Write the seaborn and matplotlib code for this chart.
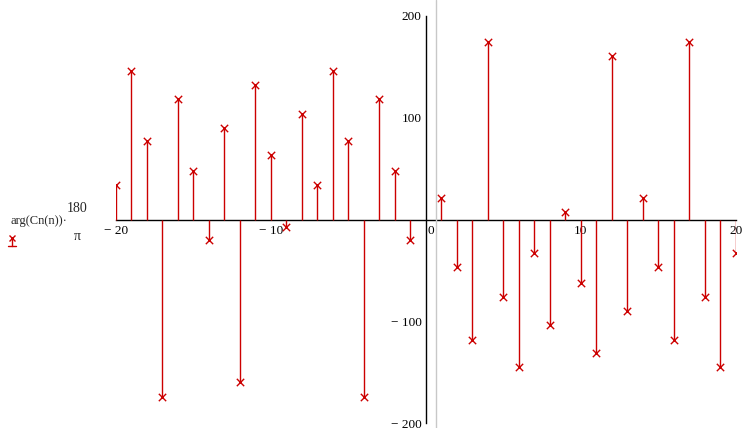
import matplotlib
matplotlib.use("Agg")
import matplotlib.pyplot as plt
from matplotlib.lines import Line2D
import matplotlib.transforms as mtransforms
import numpy as np
import pandas as pd
import seaborn as sns

# ---- data ----
n_neg = list(range(-20, 0))
phase_neg = [34, 146, 77, -174, 118, 48, -20, 90, -159, 132, 63, -7, 104,
             34, 146, 77, -174, 118, 48, -20]
n_pos = list(range(1, 21))
phase_pos = [21, -47, -118, 174, -76, -145, -33, -104, 7, -62, -131, 160, -90,
             21, -47, -118, 174, -76, -145, -33]

x_ticks = [-20, -10, 0, 10, 20]
x_tick_labels = ["\u2212 20", "\u2212 10", "0", "10", "20"]
y_ticks = [200, 100, -100, -200]
y_tick_labels = ["200", "100", "\u2212 100", "\u2212 200"]
trace_label_main = "arg(Cn(n))\u00b7"
trace_label_num = "180"
trace_label_den = "\u03c0"

df = pd.DataFrame({"n": n_neg + n_pos, "phase": phase_neg + phase_pos})

sns.set_style("white")
plt.rcParams["font.family"] = ["Liberation Serif", "DejaVu Serif"]

RED = "#cc0000"
W, H = 755, 428
fig = plt.figure(figsize=(W / 100, H / 100), dpi=100)
ax = fig.add_axes([115.7 / W, 4.7 / H, (736 - 115.7) / W, (423.3 - 15.7) / H])
ax.set_facecolor("none")

ax.vlines(df["n"], 0, df["phase"], colors=RED, linewidth=1.0, zorder=2)
sns.scatterplot(data=df, x="n", y="phase", marker="x", color=RED, s=28,
                linewidth=1.0, ax=ax, legend=False, zorder=3, clip_on=True)

ax.set_xlim(-20, 20)
ax.set_ylim(-200, 200)
ax.set_xlabel("")
ax.set_ylabel("")

for s in ["top", "right"]:
    ax.spines[s].set_visible(False)
for s in ["left", "bottom"]:
    ax.spines[s].set_position(("data", 0))
    ax.spines[s].set_color("black")
    ax.spines[s].set_linewidth(1.0)
    ax.spines[s].set_zorder(1)

ax.set_xticks(x_ticks)
ax.set_xticklabels(x_tick_labels)
ax.set_yticks(y_ticks)
ax.set_yticklabels(y_tick_labels)
ax.tick_params(axis="both", direction="inout", length=6, width=1.0,
               colors="black", labelsize=9.5, pad=1)
ax.tick_params(axis="y", pad=0)

# shift the "0" x label right of the y axis
for lab in ax.get_xticklabels():
    if lab.get_text() == "0":
        lab.set_transform(lab.get_transform() +
                          mtransforms.ScaledTranslation(5 / 100, 0, fig.dpi_scale_trans))

# light gray vertical region border
fig.add_artist(Line2D([436 / W, 436 / W], [0, 1], color="#c8c8c8", linewidth=1.0))

# trace label on the left (stacked fraction without bar, as in the reference)
fig.text(67 / W, 1 - 221 / H, trace_label_main, fontsize=9, va="center", ha="right")
fig.text(77.5 / W, 1 - 209 / H, trace_label_num, fontsize=10, va="center", ha="center")
fig.text(77.5 / W, 1 - 237 / H, trace_label_den, fontsize=10, va="center", ha="center")
# legend glyph: x on a small stem with a base
lx, ly = 12 / W, 1 - 238 / H
fig.add_artist(Line2D([lx], [ly], marker="x", color=RED, markersize=5, markeredgewidth=1.0, linestyle="none"))
fig.add_artist(Line2D([lx, lx], [ly, 1 - 246 / H], color=RED, linewidth=1.0))
fig.add_artist(Line2D([8 / W, 16 / W], [1 - 246 / H, 1 - 246 / H], color=RED, linewidth=1.0))

fig.savefig("out.png", dpi=100)
